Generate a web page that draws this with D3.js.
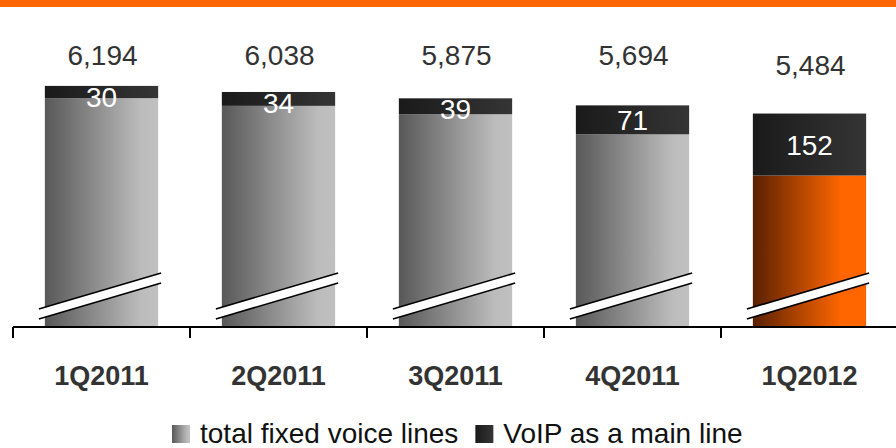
<!DOCTYPE html>
<html>
<head>
<meta charset="utf-8">
<script src="https://cdnjs.cloudflare.com/ajax/libs/d3/7.8.5/d3.min.js"></script>
<style>
  html, body { margin: 0; padding: 0; background: #fff; }
  svg { display: block; }
</style>
</head>
<body>
<svg id="chart" width="896" height="448"></svg>
<script>
// ---- data ----
const categories = ["1Q2011", "2Q2011", "3Q2011", "4Q2011", "1Q2012"];
const totalLines = [6194, 6038, 5875, 5694, 5484];
const voipLines = [30, 34, 39, 71, 152];
const highlighted = [false, false, false, false, true];
const legendLabels = ["total fixed voice lines", "VoIP as a main line"];

// ---- layout ----
const W = 896, H = 448;
const axisY = 327;
const svg = d3.select("#chart");
const font = "'Liberation Sans', Arial, Helvetica, sans-serif";

const x = d3.scaleBand().domain(categories).range([13, 898]).paddingInner(0.36).paddingOuter(0.18);
const y = d3.scaleLinear().domain([0, 6500]).range([axisY, 74]);
const yv = d3.scaleLinear().domain([0, 152]).range([0, 62]); // VoIP segment (not to scale)

// gradients
const defs = svg.append("defs");
function grad(id, stops) {
  const g = defs.append("linearGradient").attr("id", id).attr("x1", "0%").attr("x2", "100%").attr("y1", "0%").attr("y2", "0%");
  stops.forEach(s => g.append("stop").attr("offset", s[0]).attr("stop-color", s[1]));
}
grad("gGray", [["0%", "#585858"], ["85%", "#bcbcbc"], ["100%", "#c0c0c0"]]);
grad("gOrange", [["0%", "#5a2000"], ["78%", "#ff6600"], ["100%", "#ff6600"]]);
grad("gDark", [["0%", "#1a1a1a"], ["100%", "#353535"]]);

// top band
svg.append("rect").attr("x", 0).attr("y", 0).attr("width", W).attr("height", 7).attr("fill", "#ff6600");

const data = categories.map((c, i) => ({ c, total: totalLines[i], voip: voipLines[i], hi: highlighted[i] }));

const g = svg.append("g");
// base bars
g.selectAll("rect.base").data(data).join("rect")
  .attr("class", "base")
  .attr("x", d => x(d.c))
  .attr("width", x.bandwidth())
  .attr("y", d => y(d.total) + yv(d.voip))
  .attr("height", d => axisY - y(d.total) - yv(d.voip))
  .attr("fill", d => d.hi ? "url(#gOrange)" : "url(#gGray)");

// VoIP segments
g.selectAll("rect.voip").data(data).join("rect")
  .attr("class", "voip")
  .attr("x", d => x(d.c))
  .attr("width", x.bandwidth())
  .attr("y", d => y(d.total))
  .attr("height", d => yv(d.voip))
  .attr("fill", "url(#gDark)");

// axis break marks
data.forEach(d => {
  const x0 = x(d.c) - 6, x1 = x(d.c) + x.bandwidth() + 3;
  const yA0 = axisY - 18, yA1 = axisY - 54, gap = 10;
  g.append("path")
    .attr("d", `M${x0},${yA0}L${x1},${yA1}L${x1},${yA1 + gap}L${x0},${yA0 + gap}Z`)
    .attr("fill", "#fff");
  g.append("line").attr("x1", x0).attr("y1", yA0).attr("x2", x1).attr("y2", yA1)
    .attr("stroke", "#000").attr("stroke-width", 1.6);
  g.append("line").attr("x1", x0).attr("y1", yA0 + gap).attr("x2", x1).attr("y2", yA1 + gap)
    .attr("stroke", "#000").attr("stroke-width", 1.6);
});

// axis
const step = x.step();
svg.append("line").attr("x1", 13).attr("x2", W).attr("y1", axisY).attr("y2", axisY)
  .attr("stroke", "#000").attr("stroke-width", 2);
categories.forEach(c => {
  const bx = x(c) - x.paddingInner() * step / 2;
  svg.append("line").attr("x1", bx).attr("x2", bx).attr("y1", axisY).attr("y2", axisY + 11)
    .attr("stroke", "#000").attr("stroke-width", 2);
});

// category labels
svg.selectAll("text.cat").data(data).join("text")
  .attr("class", "cat")
  .attr("x", d => x(d.c) + x.bandwidth() / 2)
  .attr("y", 385)
  .attr("text-anchor", "middle")
  .attr("font-family", font).attr("font-weight", "bold").attr("font-size", 27)
  .attr("fill", "#333")
  .text(d => d.c);

// total labels
const fmt = d3.format(",");
svg.selectAll("text.tot").data(data).join("text")
  .attr("class", "tot")
  .attr("x", d => x(d.c) + x.bandwidth() / 2 + 1)
  .attr("y", d => d.hi ? 75 : 65)
  .attr("text-anchor", "middle")
  .attr("font-family", font).attr("font-size", 28)
  .attr("fill", "#333")
  .text(d => fmt(d.total));

// VoIP labels
svg.selectAll("text.voipl").data(data).join("text")
  .attr("class", "voipl")
  .attr("x", d => x(d.c) + x.bandwidth() / 2)
  .attr("y", d => Math.max(y(d.total) + 21, y(d.total) + yv(d.voip) / 2 + 10))
  .attr("text-anchor", "middle")
  .attr("font-family", font).attr("font-size", 28)
  .attr("fill", "#fff")
  .text(d => d.voip);

// legend
const leg = svg.append("g");
const legY = 443;
const t1 = leg.append("text").attr("x", 200).attr("y", legY)
  .attr("font-family", font).attr("font-size", 28).attr("fill", "#111").text(legendLabels[0]);
const t1w = t1.node().getComputedTextLength();
leg.append("rect").attr("x", 200 - 28).attr("y", legY - 18).attr("width", 18).attr("height", 18).attr("fill", "url(#gGray)");
const s2x = 200 + t1w + 17;
leg.append("rect").attr("x", s2x).attr("y", legY - 18).attr("width", 18).attr("height", 18).attr("fill", "url(#gDark)");
leg.append("text").attr("x", s2x + 28).attr("y", legY)
  .attr("font-family", font).attr("font-size", 28).attr("fill", "#111").text(legendLabels[1]);
</script>
</body>
</html>
